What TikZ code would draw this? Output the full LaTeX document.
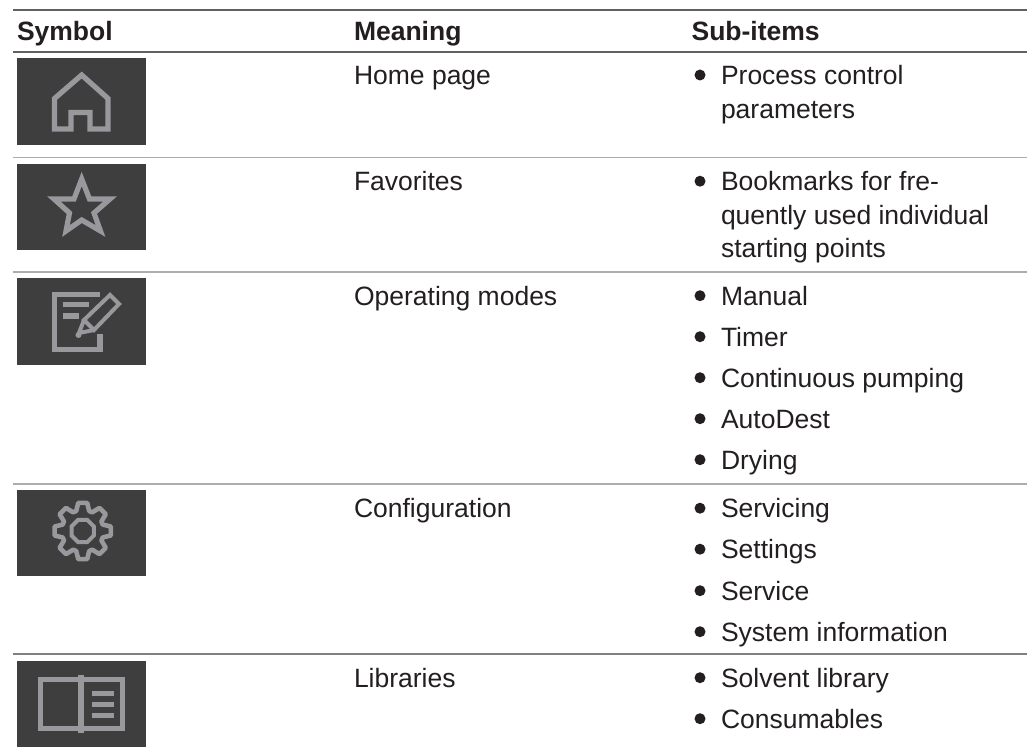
\documentclass[tikz,border=0pt]{standalone}
\usepackage{fontspec}
\usetikzlibrary{shapes.geometric}
\setmainfont{Liberation Sans}
\definecolor{txt}{RGB}{35,31,32}
\definecolor{icbg}{RGB}{62,62,63}
\definecolor{icfg}{RGB}{152,152,157}
\tikzset{
  txtn/.style={anchor=base west,inner sep=0pt,outer sep=0pt,text=txt,font=\fontsize{26.5}{32}\selectfont},
  headn/.style={txtn,font=\fontsize{26.5}{32}\selectfont\bfseries},
  bul/.style={circle,fill=txt,inner sep=0pt,minimum size=11pt},
  rulehead/.style={draw=black!62,line width=1.7pt},
  rulerow/.style={draw=black!32,line width=1.7pt},
  icbox/.style={fill=icbg,draw=none},
  icon/.style={draw=icfg,line width=5.2pt,line join=miter}
}
\newcommand{\sitem}[3]{\node[bul] (#1b) at (700,#2-9.3) {}; \node[txtn] (#1) at (721,#2) {#3};}
\begin{document}
\begin{tikzpicture}[x=1pt,y=-1pt]
\useasboundingbox (0,0) rectangle (1032,754);
\fill[white] (0,0) rectangle (1032,754);
% rules
\coordinate (l0) at (13,10); \coordinate (r0) at (1027,10);
\coordinate (l1) at (13,52); \coordinate (r1) at (1027,52);
\coordinate (l2) at (13,157.5); \coordinate (r2) at (1027,157.5);
\coordinate (l3) at (13,272); \coordinate (r3) at (1027,272);
\coordinate (l4) at (13,484); \coordinate (r4) at (1027,484);
\coordinate (l5) at (13,654); \coordinate (r5) at (1027,654);
\draw[rulehead] (l0)--(r0);
\draw[rulehead] (l1)--(r1);
\draw[rulerow] (l2)--(r2);
\draw[rulerow] (l3)--(r3);
\draw[rulerow] (l4)--(r4);
\draw[rulehead,draw=black!50,line width=1.2pt] (l5)--(r5);
% header
\node[headn] (h1) at (17,40.5) {Symbol};
\node[headn] (h2) at (354,40.5) {Meaning};
\node[headn] (h3) at (691.6,40.5) {Sub-items};
% meanings
\node[txtn] (m1) at (354,84.3) {Home page};
\node[txtn] (m2) at (354,190.5) {Favorites};
\node[txtn] (m3) at (354,305) {Operating modes};
\node[txtn] (m4) at (354,517.5) {Configuration};
\node[txtn] (m5) at (354,687) {Libraries};
% sub items
\sitem{s1}{84.3}{Process control}
\node[txtn] (s1c) at (721,118.3) {parameters};
\sitem{s2}{190.5}{Bookmarks for fre-}
\node[txtn] (s2c) at (721,224) {quently used individual};
\node[txtn] (s2d) at (721,257.5) {starting points};
\sitem{s3}{305}{Manual}
\sitem{s4}{346}{Timer}
\sitem{s5}{387}{Continuous pumping}
\sitem{s6}{428}{AutoDest}
\sitem{s7}{469}{Drying}
\sitem{s8}{517.5}{Servicing}
\sitem{s9}{558.5}{Settings}
\sitem{s10}{600}{Service}
\sitem{s11}{641}{System information}
\sitem{s12}{687}{Solvent library}
\sitem{s13}{728}{Consumables}
% icon boxes
\fill[icbox] (17,58) rectangle (146,145);
\fill[icbox] (17,164) rectangle (146,250);
\fill[icbox] (17,278) rectangle (146,365);
\fill[icbox] (17,490) rectangle (146,576);
\fill[icbox] (17,661) rectangle (146,747);
% home
\draw[icon] (81.7,75) -- (108,98.5) -- (108,129) -- (90,129) -- (90,112.5) -- (71,112.5) -- (71,129) -- (54.5,129) -- (54.5,98.5) -- cycle;
% star
\draw[icon] (81.7,179) -- (89.5,199) -- (110,199) -- (94,213) -- (100.5,231) -- (81.7,220) -- (66,231) -- (69.5,213) -- (54,199) -- (74,199) -- cycle;
% document + pencil
\draw[icon] (100,294.5) -- (54.5,294.5) -- (54.5,349.5) -- (100,349.5) -- (100,334);
\draw[icon] (63,304.5) -- (89,304.5);
\draw[icon] (63,316) -- (79,316);
\draw[icon,line width=4pt] (110,295) -- (119,304) -- (94,330) -- (84,320) -- cycle;
\draw[icon,line width=4pt] (84,320) -- (79,333) -- (94,330);
\fill[icfg] (78.5,335) circle (3);
% gear
\begin{scope}[shift={(82.7,531)}]
\draw[icon,line width=4.6pt,line join=round] (-18:21) \foreach \a in {0,45,...,315}{ -- (\a-18:21) -- (\a-9:28.5) -- (\a+9:28.5) -- (\a+18:21) } -- cycle;
\end{scope}
\node[draw=icfg,line width=4pt,regular polygon,regular polygon sides=8,minimum size=24pt,inner sep=0pt] (gearhole) at (82.7,531) {};
% book
\draw[icon] (40.5,679.5) rectangle (122.5,728.5);
\draw[icon] (81,675) -- (81,733);
\draw[icon,line width=5pt] (92,693) -- (114,693);
\draw[icon,line width=5pt] (92,704) -- (114,704);
\draw[icon,line width=5pt] (92,715) -- (114,715);
\end{tikzpicture}
\end{document}
